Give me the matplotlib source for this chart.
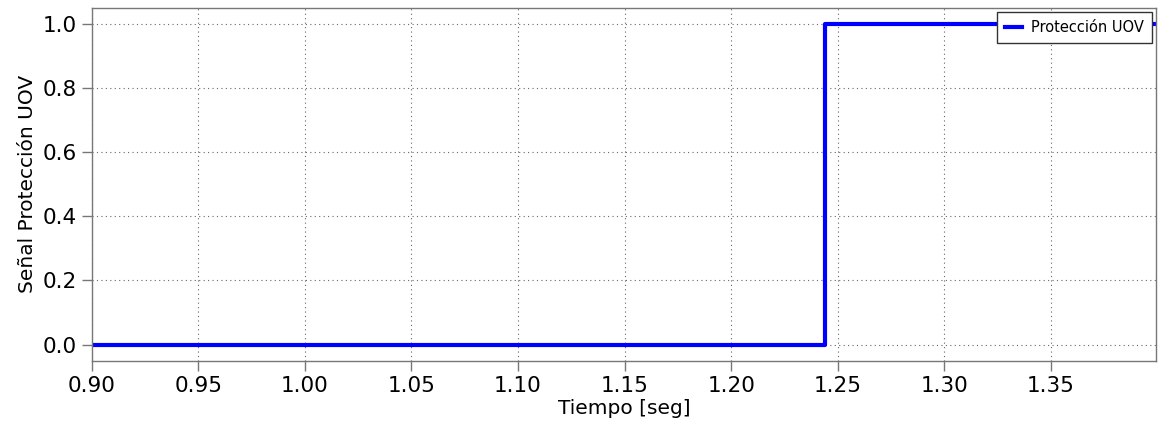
import numpy as np
from matplotlib import pyplot as plt

### Data: UOV protection trip signal
tiempo = [0.90, 1.244, 1.40]
senal = [0.0, 1.0, 1.0]

xticks = [0.90, 0.95, 1.00, 1.05, 1.10, 1.15, 1.20, 1.25, 1.30, 1.35]
yticks = [0.0, 0.2, 0.4, 0.6, 0.8, 1.0]

fig, ax = plt.subplots(figsize=(11.61, 4.33), dpi=100)

ax.step(tiempo, senal, where='post', color='blue', linewidth=3,
        label='Protección UOV')

ax.set_xlim(0.90, 1.3995)
ax.set_ylim(-0.05, 1.05)
ax.set_xticks(xticks)
ax.set_xticklabels(['%.2f' % v for v in xticks])
ax.set_yticks(yticks)
ax.set_yticklabels(['%.1f' % v for v in yticks])

ax.grid(True, linestyle=(0, (1, 3)), color='#666666', linewidth=0.8)
ax.tick_params(axis='both', direction='out', length=7, width=1,
               color='#777777', labelsize=15.5, pad=4)

for side in ax.spines.values():
    side.set_color('#777777')
    side.set_linewidth(1)

ax.set_xlabel('Tiempo [seg]', fontsize=14.5, labelpad=2)
ax.set_ylabel('Señal Protección UOV', fontsize=14.5)

leg = ax.legend(loc='upper right', fontsize=10.5, fancybox=False,
                handlelength=1.2, handletextpad=0.6, borderpad=0.55,
                borderaxespad=0.3, framealpha=1)
leg.get_frame().set_edgecolor('#333333')

fig.subplots_adjust(left=0.079, right=0.996, top=0.982, bottom=0.167)
fig.savefig('out.png', dpi=100)
